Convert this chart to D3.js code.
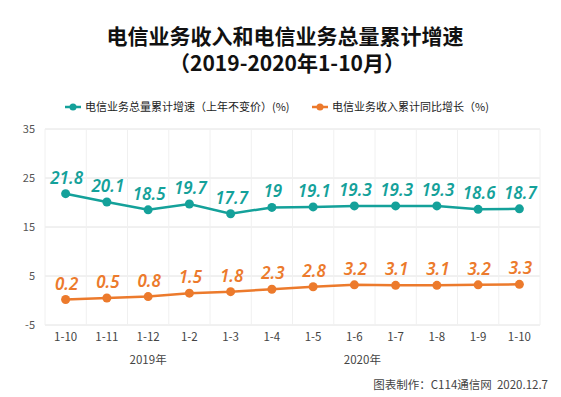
<!DOCTYPE html>
<html>
<head>
<meta charset="utf-8">
<script src="https://cdn.jsdelivr.net/npm/d3@7"></script>
<style>
  body { margin: 0; background: #fff; }
  text { font-family: "Noto Sans CJK SC", "Noto Sans", sans-serif; }
</style>
</head>
<body>
<svg id="main_svg" width="561" height="397"></svg>
<script>
// data
const months = ["1-10","1-11","1-12","1-2","1-3","1-4","1-5","1-6","1-7","1-8","1-9","1-10"]
const volume_growth = [21.8,20.1,18.5,19.7,17.7,19,19.1,19.3,19.3,19.3,18.6,18.7]
const revenue_growth = [0.2,0.5,0.8,1.5,1.8,2.3,2.8,3.2,3.1,3.1,3.2,3.3]
const y_ticks = [-5,5,15,25,35]
const years = [{label:"2019年", from:0, to:4}, {label:"2020年", from:3, to:11}]
const series_names = ["电信业务总量累计增速（上年不变价）(%)", "电信业务收入累计同比增长（%)"]

const teal = "#14a19a"
const orange = "#ec7a2c"

const svg = d3.select("#main_svg")
const plot_l = 45, plot_r = 540, plot_t = 129, plot_b = 325

const idx = months.map((m,i)=>i)
const x = d3.scaleBand().domain(idx).range([plot_l, plot_r])
const y = d3.scaleLinear().domain([-5, 35]).range([plot_b, plot_t])
const cx = i => x(i) + x.bandwidth()/2

// title
svg.append("text").attr("x", 285).attr("y", 44).attr("text-anchor","middle")
    .attr("font-size", 21).attr("font-weight","bold").attr("fill","#111")
    .text("电信业务收入和电信业务总量累计增速")
svg.append("text").attr("x", 287).attr("y", 71).attr("text-anchor","middle")
    .attr("font-size", 21).attr("font-weight","bold").attr("fill","#111")
    .text("（2019-2020年1-10月）")

// legend
const legend = [{name:series_names[0], color:teal, x:65}, {name:series_names[1], color:orange, x:312}]
legend.forEach(l=>{
    svg.append("line").attr("x1", l.x).attr("x2", l.x+16).attr("y1",107).attr("y2",107)
        .attr("stroke", l.color).attr("stroke-width",2.5)
    svg.append("circle").attr("cx", l.x+8).attr("cy",107).attr("r",3.5).attr("fill", l.color)
    svg.append("text").attr("x", l.x+20).attr("y",111).attr("font-size",11).attr("fill","#222")
        .text(l.name)
})

// grid
svg.append("g").selectAll("line").data(y_ticks).join("line")
    .attr("x1", plot_l).attr("x2", plot_r)
    .attr("y1", d=>y(d)).attr("y2", d=>y(d))
    .attr("stroke", "#e2e2e2").attr("stroke-width", 1)
svg.append("g").selectAll("line").data(idx.concat([idx.length])).join("line")
    .attr("x1", d=> d<idx.length ? x(d) : plot_r).attr("x2", d=> d<idx.length ? x(d) : plot_r)
    .attr("y1", plot_t).attr("y2", plot_b)
    .attr("stroke", "#f0f0f0").attr("stroke-width", 1)

// y labels
svg.append("g").selectAll("text").data(y_ticks).join("text")
    .attr("x", 35).attr("y", d=>y(d)+4).attr("text-anchor","end")
    .attr("font-size", 11).attr("fill","#555")
    .text(d=>d)

// x labels
svg.append("g").selectAll("text").data(idx).join("text")
    .attr("x", d=>cx(d)).attr("y", 341).attr("text-anchor","middle")
    .attr("font-size", 11.5).attr("fill","#444")
    .text(d=>months[d])

svg.append("g").selectAll("text").data(years).join("text")
    .attr("x", d=>(cx(d.from)+cx(d.to))/2 + (d.from>0 ? 8 : 0)).attr("y", 364).attr("text-anchor","middle")
    .attr("font-size", 11.5).attr("fill","#444")
    .text(d=>d.label)

// series
function draw_series(values, color){
    const line = d3.line().x((d,i)=>cx(i)).y(d=>y(d))
    svg.append("path").datum(values).attr("d", line)
        .attr("fill","none").attr("stroke", color).attr("stroke-width", 2.5)
    svg.append("g").selectAll("circle").data(values).join("circle")
        .attr("cx", (d,i)=>cx(i)).attr("cy", d=>y(d)).attr("r", 4.5).attr("fill", color)
    svg.append("g").selectAll("text").data(values).join("text")
        .attr("x", (d,i)=>cx(i)+1).attr("y", d=>y(d)-10).attr("text-anchor","middle")
        .attr("font-size", 17).attr("font-style","italic").attr("font-weight", 600)
        .attr("fill", color)
        .style("font-family", "'Noto Sans', sans-serif")
        .text(d=>d)
}
draw_series(volume_growth, teal)
draw_series(revenue_growth, orange)

// footer
svg.append("text").attr("x", 548).attr("y", 389).attr("text-anchor","end")
    .attr("font-size", 11.5).attr("fill","#444")
    .text("图表制作：C114通信网\u00a0\u00a02020.12.7")
</script>
</body>
</html>
